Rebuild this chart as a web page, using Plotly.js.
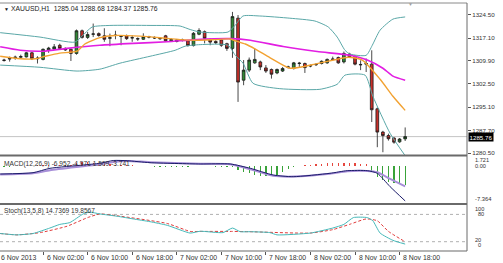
<!DOCTYPE html>
<html><head><meta charset="utf-8">
<script src="https://cdn.plot.ly/plotly-3.0.1.min.js"></script>
<style>html,body{margin:0;padding:0;background:#fff;overflow:hidden}#chart{width:503px;height:263px}</style>
</head><body><div id="chart"></div>
<script>
// ---- data (hours since 6 Nov 2013 00:00, H1 bars) ----
const hours = [-5,-4,-3,-2,-1,0,1,2,3,4,5,6,7,8,9,10,11,12,13,14,15,16,17,18,19,20,21,22,23,24,25,26,27,28,29,30,31,32,33,34,35,36,37,38,39,40,41,42,43,44,45,46,47,48,49,50,51,52,53,54,55,56,57,58,59,60,61,62,63,64,65,66,67];
const openP = [1310.1,1310.4,1310.8,1311.0,1311.1,1312.4,1310.5,1310.3,1313.3,1313.6,1314.8,1313.8,1313.5,1312.2,1319.4,1317.3,1318.3,1318.5,1317.8,1317.0,1317.9,1317.6,1317.8,1317.1,1316.9,1316.7,1317.5,1317.3,1317.0,1317.8,1316.2,1316.5,1316.4,1316.2,1314.7,1318.3,1319.1,1316.5,1316.0,1316.5,1315.3,1313.8,1323.4,1303.7,1306.9,1309.2,1309.5,1307.6,1307.1,1306.0,1306.6,1307.8,1307.4,1309.0,1309.0,1308.2,1308.6,1309.0,1309.2,1310.3,1310.9,1309.5,1312.0,1311.3,1308.7,1308.8,1308.8,1294.6,1287.2,1286.1,1285.3,1284.1,1285.04];
const highP = [1310.5,1311.2,1311.5,1311.8,1312.7,1312.7,1311.3,1313.8,1314.3,1315.2,1315.3,1314.1,1313.8,1319.8,1319.8,1319.0,1321.7,1318.9,1320.2,1318.5,1319.4,1318.0,1318.2,1318.0,1317.3,1318.6,1317.8,1317.6,1317.4,1318.1,1317.0,1316.8,1316.9,1316.5,1319.0,1320.2,1319.5,1317.0,1316.4,1316.8,1315.6,1325.4,1324.4,1310.1,1310.9,1313.8,1309.9,1308.5,1307.4,1307.4,1307.9,1308.3,1309.5,1309.5,1309.3,1308.7,1309.1,1310.0,1310.6,1311.2,1311.2,1312.8,1312.4,1311.6,1310.0,1310.6,1313.2,1295.0,1287.6,1286.7,1285.6,1285.3,1288.68];
const lowP = [1309.6,1309.6,1310.2,1310.6,1310.9,1310.1,1309.0,1310.0,1312.4,1313.3,1313.5,1313.0,1309.8,1311.8,1316.9,1316.8,1317.4,1317.5,1315.9,1314.5,1316.7,1314.8,1316.5,1315.9,1316.2,1316.5,1317.0,1316.8,1316.5,1315.9,1315.9,1315.7,1316.0,1314.4,1314.4,1318.0,1315.4,1314.8,1315.2,1314.3,1313.0,1310.8,1296.8,1302.1,1306.3,1308.9,1306.9,1306.0,1304.2,1305.6,1306.3,1307.4,1307.1,1307.9,1306.0,1307.8,1308.2,1308.7,1308.9,1310.0,1308.9,1309.0,1310.8,1308.4,1306.9,1306.3,1290.4,1282.4,1280.8,1284.5,1283.5,1283.8,1284.37];
const closeP = [1310.0,1310.6,1311.0,1311.2,1312.4,1310.5,1310.7,1313.5,1313.9,1314.3,1313.8,1313.3,1312.2,1319.4,1317.3,1318.2,1318.4,1317.9,1316.7,1317.2,1318.0,1317.7,1316.9,1317.2,1316.8,1317.6,1317.4,1317.1,1316.9,1316.2,1316.6,1316.0,1316.5,1314.7,1318.6,1319.5,1317.0,1315.8,1315.6,1314.8,1313.8,1323.9,1303.1,1306.9,1310.1,1310.3,1307.9,1306.6,1305.6,1307.1,1307.4,1307.9,1309.2,1309.1,1307.7,1308.3,1308.7,1309.7,1310.3,1310.4,1309.2,1312.2,1311.1,1308.8,1308.6,1309.0,1294.3,1287.2,1286.1,1285.1,1284.0,1285.0,1285.76];

// Bollinger bands / moving averages (hour, price)
const bbUpX = [-5.7,1.45,7.7,9.0,10.8,14.0,21.2,26.6,28.4,30.2,35.2,36.5,37.9,40.9,46.3,50.8,53.2,54.8,56.2,57.1,60.0,61.1,62.5,64.8,67];
const bbUpY = [1318.8,1317.4,1315.8,1317.7,1320.6,1321.1,1321.1,1320.9,1319.8,1319.0,1319.0,1321.2,1324.1,1324.1,1323.4,1322.5,1320.6,1317.4,1313.2,1312.0,1311.6,1314.8,1319.6,1323.1,1323.8];
const bbLoX = [-5.7,1.45,8.1,12.2,15.8,21.2,25.7,27.5,30.2,35.2,36.5,37.9,39.7,44.5,51.7,54.8,56.2,59.8,61.2,64.3,67];
const bbLoY = [1308.5,1307.8,1306.6,1307.2,1309.1,1311.3,1313.2,1314.5,1315.0,1314.8,1311.6,1309.1,1302.7,1301.0,1300.8,1302.4,1305.3,1305.3,1298.6,1286.8,1279.7];
const maFastX = [-5.7,-2.1,0.6,2.4,5.0,8.1,9.5,12.2,14.9,19.4,23.0,26.6,29.6,32.9,35.6,36.7,38.3,40.1,42.7,46.3,48.1,50.8,54.4,56.8,59.3,62.5,64.8,67];
const maFastY = [1311.3,1310.5,1310.5,1311.3,1312.3,1312.9,1315.2,1317.2,1317.9,1317.7,1317.2,1316.6,1316.4,1316.6,1316.8,1316.1,1315.2,1313.6,1310.9,1307.5,1307.8,1308.8,1310.2,1311.0,1310.1,1304.0,1298.6,1294.1];
const maSlowX = [-5.7,-2.1,2.0,6.3,12.2,18.2,24.3,29.6,35.6,39.2,45.1,51.2,57.1,60.2,63.0,64.8,67];
const maSlowY = [1314.3,1313.2,1312.9,1313.8,1314.8,1315.4,1315.9,1316.6,1316.9,1316.4,1314.4,1312.8,1311.6,1310.1,1307.5,1305.0,1303.7];

// MACD(12,26,9)
const macdHist = [-0.2,-0.2,-0.15,-0.1,-0.05,0,0.05,0.1,0.15,0.15,0.1,0.1,0.05,0.45,0.7,0.65,0.55,0.45,0.35,0.25,0.2,0.15,0.1,0.05,-0.05,-0.1,-0.15,-0.2,-0.2,-0.25,-0.25,-0.25,-0.2,-0.2,-0.1,-0.05,-0.1,-0.15,-0.2,-0.25,-0.3,-0.3,-0.8,-1.2,-1.5,-1.8,-2.0,-2.1,-2.1,-1.8,-1.3,-0.7,-0.2,-0.05,0.05,0.2,0.3,0.4,0.45,0.5,0.55,0.55,0.5,0.45,0.35,0.3,-1.2,-2.2,-2.8,-3.3,-3.5,-3.7,-3.741];
const macdX = [-5.7,0.2,3.25,9.2,12.2,14.6,17.1,21.2,30.2,35.6,39.2,43.3,46.9,53.5,56.6,60.2,62,64.3,67];
const macdMain = [-1.64,-1.38,-0.51,0.14,0.48,1.03,0.99,0.6,0.34,0.34,-0.51,-1.83,-2.17,-1.5,-0.98,-0.98,-1.5,-4.14,-6.952];
const macdSignal = [-1.75,-1.5,-0.9,-0.1,0.3,0.75,0.95,0.7,0.4,0.3,-0.7,-2.0,-2.15,-1.6,-1.1,-1.05,-1.3,-2.6,-4.1];

// Stochastic(13,5,8)
const stochKX = [-5.7,-2.7,0.2,3.2,5,6.8,9.2,10.4,12.2,15.3,18.2,21.2,24.3,28.4,30.2,34.3,36,37.4,39.2,42.7,44,50,54,56,57.7,60.2,61.2,62.5,64.8,67];
const stochK = [38,35,38,50,58,62,81,85,81,76,70,64,56,39,43,40,50,42,42,40,35,39,50,58,73,73,66,39,23,14.7369];
const stochDX = [-5.7,-2.7,1.5,6.3,10,12.2,15.3,24.3,28.4,30.2,36,39,50,54,57,60,62,64,67];
const stochD = [38,35,40,54,73,81,77,60,42.6,42.6,42.6,42,39,46.5,58,70,66,42.6,19.8567];

const priceTicks = [1280.50,1287.70,1295.10,1302.50,1309.90,1317.10,1324.50];
const timeTickVals = [2,10,18,26,34,42,50,58,66];
const timeTickText = ['6 Nov 02:00','6 Nov 10:00','6 Nov 18:00','7 Nov 02:00','7 Nov 10:00','7 Nov 18:00','8 Nov 02:00','8 Nov 10:00','8 Nov 18:00'];
const firstLabel = '6 Nov 2013';
const lastPrice = 1285.76;

// ---- layout helpers ----
const W = 503, H = 263;
const px = v => v / W;
const py = v => 1 - v / H;
const XR = [-5.73, 78.1];
const XEND = 467;
const FONT = 'Liberation Sans, Arial, sans-serif';

const traces = [
  {type:'candlestick', x:hours, open:openP, high:highP, low:lowP, close:closeP,
   xaxis:'x', yaxis:'y', whiskerwidth:0,
   increasing:{line:{color:'#1a1a1a', width:0.8}, fillcolor:'#2f8a34'},
   decreasing:{line:{color:'#1a1a1a', width:0.8}, fillcolor:'#c8302a'},
   hoverinfo:'skip', showlegend:false},
  {type:'scatter', mode:'lines', x:bbUpX, y:bbUpY, line:{color:'#5aa7a7', width:1, shape:'spline', smoothing:0.6}, xaxis:'x', yaxis:'y', hoverinfo:'skip'},
  {type:'scatter', mode:'lines', x:bbLoX, y:bbLoY, line:{color:'#5aa7a7', width:1, shape:'spline', smoothing:0.6}, xaxis:'x', yaxis:'y', hoverinfo:'skip'},
  {type:'scatter', mode:'lines', x:maSlowX, y:maSlowY, line:{color:'#e21ee2', width:1.6, shape:'spline', smoothing:0.6}, xaxis:'x', yaxis:'y', hoverinfo:'skip'},
  {type:'scatter', mode:'lines', x:maFastX, y:maFastY, line:{color:'#f2a232', width:1.4, shape:'spline', smoothing:0.6}, xaxis:'x', yaxis:'y', hoverinfo:'skip'},
  {type:'bar', x:hours, y:macdHist, base:0, width:0.22, xaxis:'x', yaxis:'y2',
   marker:{color:macdHist.map(v => v >= 0 ? '#e5463e' : '#39a339'), line:{width:0}}, hoverinfo:'skip'},
  {type:'scatter', mode:'lines', x:macdX, y:macdSignal, line:{color:'#a78fd8', width:2, shape:'spline', smoothing:0.6}, xaxis:'x', yaxis:'y2', hoverinfo:'skip'},
  {type:'scatter', mode:'lines', x:macdX, y:macdMain, line:{color:'#1c1c6a', width:1, shape:'spline', smoothing:0.6}, xaxis:'x', yaxis:'y2', hoverinfo:'skip'},
  {type:'scatter', mode:'lines', x:stochDX, y:stochD, line:{color:'#e03a3a', width:1, dash:'3px,2px', shape:'spline', smoothing:0.5}, xaxis:'x', yaxis:'y3', hoverinfo:'skip'},
  {type:'scatter', mode:'lines', x:stochKX, y:stochK, line:{color:'#45b8b8', width:1, shape:'spline', smoothing:0.5}, xaxis:'x', yaxis:'y3', hoverinfo:'skip'}
];

const dom = (top, bot) => [1 - bot / H, 1 - top / H];
const xEndP = px(XEND);

const ann = [];
function txt(x, y, text, size, color, anchor, extra) {
  ann.push(Object.assign({xref:'paper', yref:'paper', x:px(x), y:py(y), text:text, showarrow:false,
    xanchor:anchor || 'left', yanchor:'middle', font:{family:FONT, size:size, color:color || '#222'}}, extra || {}));
}
txt(2, 8.5, '▼', 5, '#111');
txt(9, 8.5, 'XAUUSD,H1  1285.04 1288.68 1284.37 1285.76', 6.8, '#1a1a1a');
txt(410, 4.5, '▼', 5, '#a0a0a0', 'center');
txt(2, 163.5, 'MACD(12,26,9) -6.952 -4.971 1.509 -3.741', 6.6, '#333');
txt(2, 210.5, 'Stoch(13,5,8) 14.7369 19.8567', 6.6, '#333');
// right scales for sub windows (stacked as in the terminal, nudged apart slightly)
txt(473, 160.3, '1.721', 5.6, '#333');
txt(473, 166.0, '0.00', 5.6, '#333');
txt(473, 198.5, '-7.364', 5.8, '#333');
txt(473, 208.6, '100', 5.6, '#333');
txt(476, 213.8, '80', 5.6, '#333');
txt(473, 239.8, '20', 5.6, '#333');
txt(476, 245.0, '0', 5.6, '#333');
// time labels
txt(-1, 257.5, firstLabel, 6.9, '#333');
timeTickVals.forEach((h, i) => {
  const xpx = (h - XR[0]) / (XR[1] - XR[0]) * XEND;
  txt(xpx + 1.5, 257.5, timeTickText[i], 6.9, '#333');
});
// last price box
ann.push({xref:'paper', yref:'y', x:px(468), y:lastPrice, text:lastPrice.toFixed(2), showarrow:false,
  xanchor:'left', yanchor:'middle', bgcolor:'#000', borderpad:0.5,
  font:{family:FONT, size:6.2, color:'#fff'}});

const shapes = [];
function hline(y, w, c) { shapes.push({type:'line', xref:'paper', yref:'paper', x0:0, x1:xEndP, y0:py(y), y1:py(y), line:{color:c, width:w}}); }
hline(3, 1, '#8a8a8a');
hline(155.5, 2, '#6a6a6a');
hline(204, 2, '#6a6a6a');
hline(251, 1.2, '#6a6a6a');
shapes.push({type:'line', xref:'paper', yref:'paper', x0:xEndP, x1:xEndP, y0:py(251), y1:py(3), line:{color:'#6a6a6a', width:1}});
shapes.push({type:'line', xref:'paper', yref:'y', x0:0, x1:xEndP, y0:lastPrice, y1:lastPrice, line:{color:'#c4c4c4', width:1}, layer:'below'});
shapes.push({type:'line', xref:'paper', yref:'y3', x0:0, x1:xEndP, y0:80, y1:80, line:{color:'#b0b0b0', width:1, dash:'dot'}, layer:'below'});
shapes.push({type:'line', xref:'paper', yref:'y3', x0:0, x1:xEndP, y0:20, y1:20, line:{color:'#b0b0b0', width:1, dash:'dot'}, layer:'below'});

const layout = {
  width:W, height:H, margin:{l:0, r:0, t:0, b:0}, paper_bgcolor:'#fff', plot_bgcolor:'#fff',
  showlegend:false, bargap:0, dragmode:false,
  xaxis:{domain:[0, xEndP], range:XR, anchor:'y3', showgrid:false, zeroline:false, showline:false,
    tickvals:timeTickVals, ticks:'outside', ticklen:3, tickcolor:'#555', tickwidth:1, showticklabels:false,
    rangeslider:{visible:false}, fixedrange:true},
  yaxis:{domain:dom(3, 155.5), range:[1279.76, 1328.23], side:'right', anchor:'x', showgrid:false, zeroline:false,
    tickvals:priceTicks, ticktext:priceTicks.map(v => v.toFixed(2)), ticks:'outside', ticklen:3, tickcolor:'#555',
    tickfont:{family:FONT, size:6.2, color:'#333'}, fixedrange:true},
  yaxis2:{domain:dom(157, 203), range:[-7.364, 1.721], side:'right', anchor:'x', showgrid:false, zeroline:false,
    showticklabels:false, ticks:'', fixedrange:true},
  yaxis3:{domain:dom(205.3, 250.8), range:[0, 100], side:'right', anchor:'x', showgrid:false, zeroline:false,
    showticklabels:false, ticks:'', fixedrange:true},
  annotations:ann, shapes:shapes
};

Plotly.newPlot('chart', traces, layout, {staticPlot:true, displayModeBar:false});
</script>
</body></html>
